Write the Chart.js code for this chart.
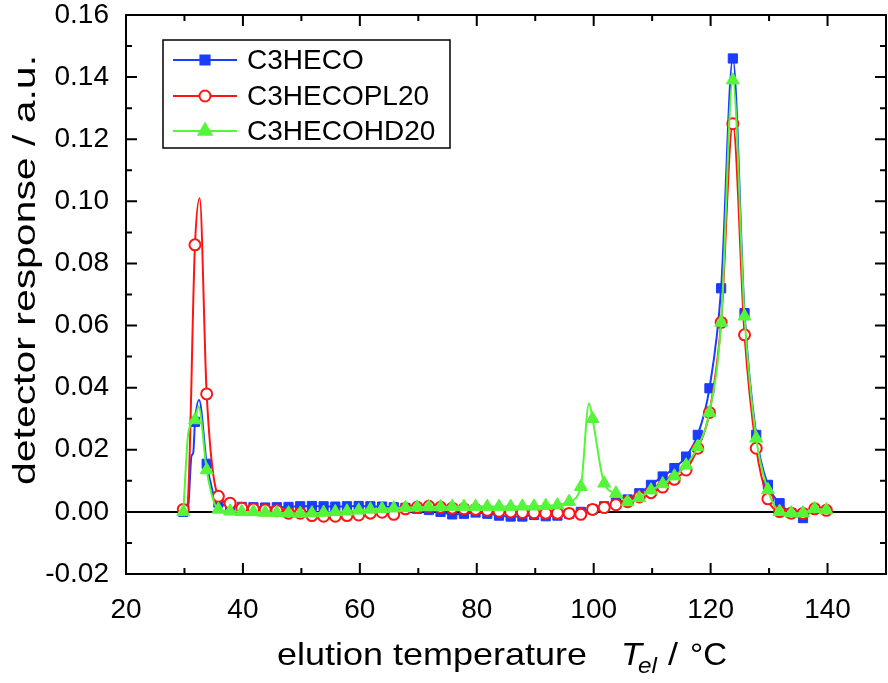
<!DOCTYPE html>
<html>
<head>
<meta charset="utf-8">
<script src="https://cdn.jsdelivr.net/npm/chart.js@4.4.1/dist/chart.umd.min.js"></script>
<style>
  html, body { margin: 0; padding: 0; background: #fff; }
  #wrap { width: 888px; height: 683px; }
</style>
</head>
<body>
<div id="wrap"><canvas id="cv" width="888" height="683"></canvas></div>
<script>
// elution temperatures of the marked points (degC)
var temps = [29.8, 31.8, 33.8, 35.8, 37.8, 39.8, 41.8, 43.8, 45.8, 47.8,
  49.8, 51.8, 53.8, 55.8, 57.8, 59.8, 61.8, 63.8, 65.8, 67.8,
  69.8, 71.8, 73.8, 75.8, 77.8, 79.8, 81.8, 83.8, 85.8, 87.8,
  89.8, 91.8, 93.8, 95.8, 97.8, 99.8, 101.8, 103.8, 105.8, 107.8,
  109.8, 111.8, 113.8, 115.8, 117.8, 119.8, 121.8, 123.8, 125.8, 127.8,
  129.8, 131.8, 133.8, 135.8, 137.8, 139.8];

var heco = [0.0, 0.029, 0.0155, 0.003, 0.0018, 0.0016, 0.0015, 0.0014, 0.0015, 0.0016,
  0.0018, 0.0019, 0.0018, 0.0017, 0.0018, 0.0019, 0.0018, 0.0017, 0.0015, 0.0013,
  0.0010, 0.0006, 0.0, -0.0008, -0.0006, -0.0002, -0.0006, -0.0012, -0.0015, -0.0015,
  -0.0010, -0.0014, -0.0012, -0.0006, 0.0, 0.0008, 0.0018, 0.003, 0.004, 0.006,
  0.0087, 0.0114, 0.0141, 0.0178, 0.0248, 0.0398, 0.072, 0.146, 0.064, 0.0248,
  0.0087, 0.0028, -0.0004, -0.002];

var hecoPL = [0.0008, 0.086, 0.038, 0.005, 0.0028, 0.0012, 0.0009, 0.0006, 0.0004, -0.0004,
  -0.0004, -0.0012, -0.0014, -0.0014, -0.0012, -0.001, -0.0004, -0.0001, -0.0008, 0.0010,
  0.0015, 0.0018, 0.0015, 0.0012, 0.001, 0.0008, 0.0005, 0.0002, 0.0, -0.0002,
  -0.0003, -0.0004, -0.0004, -0.0005, -0.0008, 0.0008, 0.0014, 0.0023, 0.0033, 0.0048,
  0.0062, 0.008, 0.0105, 0.0135, 0.0205, 0.032, 0.061, 0.125, 0.057, 0.0205,
  0.0042, 0.0001, -0.0004, -0.0005, 0.001, 0.0005];

var hecoHD = [0.0, 0.0296, 0.0135, 0.0008, 0.0002, 0.0, 0.0, -0.0002, -0.0003, -0.0004,
  -0.0005, -0.0004, -0.0002, 0.0, 0.0002, 0.0005, 0.0008, 0.0010, 0.0012, 0.0013,
  0.0015, 0.0016, 0.0016, 0.0017, 0.0017, 0.0017, 0.0017, 0.0017, 0.0017, 0.0018,
  0.0018, 0.002, 0.0022, 0.0033, 0.0081, 0.030, 0.0092, 0.006, 0.0032, 0.0045,
  0.007, 0.009, 0.0115, 0.015, 0.021, 0.032, 0.061, 0.139, 0.063, 0.0237,
  0.0071, 0.0001, -0.0004, -0.0004, 0.001, 0.0006];

// points of the fitted curves that carry no marker
var hecoExtraT = [30.6, 31.2, 31.5, 32.5, 34.4, 35.2];
var hecoExtraV = [0.001, 0.018, 0.019, 0.036, 0.010, 0.004];
var hecoPLExtraT = [30.5, 32.6];
var hecoPLExtraV = [0.002, 0.101];
var hecoHDExtraT = [30.7, 32.4, 34.9, 99.2];
var hecoHDExtraV = [0.026, 0.034, 0.004, 0.035];

var names = ['C3HECO', 'C3HECOPL20', 'C3HECOHD20'];
var xTicks = [20, 40, 60, 80, 100, 120, 140];
var yTicks = [-0.02, 0.00, 0.02, 0.04, 0.06, 0.08, 0.10, 0.12, 0.14, 0.16];

var FONT = '"Liberation Sans", Arial, sans-serif';

function buildPoints(vals, exT, exV) {
  var pts = [];
  vals.forEach(function(v, i) { pts.push({x: temps[i], y: v, m: true}); });
  exT.forEach(function(t, i) { pts.push({x: t, y: exV[i], m: false}); });
  pts.sort(function(a, b) { return a.x - b.x; });
  return pts;
}

var styles = [
  {color: '#1a3cff', fill: '#1a3cff', pointStyle: 'rect', radius: 6.5, bw: 1},
  {color: '#ff1414', fill: '#ffffff', pointStyle: 'circle', radius: 5.5, bw: 2},
  {color: '#55f53a', fill: '#55f53a', pointStyle: 'triangle', radius: 7.5, bw: 1}
];

function makeSet(i, pts) {
  var s = styles[i];
  return {
    label: names[i],
    data: pts,
    borderColor: s.color,
    backgroundColor: s.fill,
    pointBorderColor: s.color,
    pointBackgroundColor: s.fill,
    pointStyle: s.pointStyle,
    pointBorderWidth: s.bw,
    pointRadius: function(ctx) { return ctx.raw && ctx.raw.m ? s.radius : 0; },
    pointHoverRadius: 0,
    borderWidth: 2,
    cubicInterpolationMode: 'monotone',
    fill: false
  };
}

// text stretched along its run to a given length
function wideText(ctx, txt, x, y, len) {
  var w = ctx.measureText(txt).width;
  ctx.save();
  ctx.translate(x, y);
  ctx.scale(len / w, 1);
  ctx.fillText(txt, 0, 0);
  ctx.restore();
}

// frame, inward ticks, zero line, legend and axis titles
var decor = {
  id: 'decor',
  beforeDatasetsDraw: function(chart) {
    var ctx = chart.ctx, a = chart.chartArea, y0 = chart.scales.y.getPixelForValue(0);
    ctx.save();
    ctx.strokeStyle = '#000';
    ctx.lineWidth = 2;
    ctx.beginPath();
    ctx.moveTo(a.left, y0);
    ctx.lineTo(a.right, y0);
    ctx.stroke();
    ctx.restore();
  },
  afterDraw: function(chart) {
    var ctx = chart.ctx, a = chart.chartArea, xs = chart.scales.x, ys = chart.scales.y;
    ctx.save();
    ctx.strokeStyle = '#000';
    ctx.lineWidth = 2;
    ctx.strokeRect(a.left, a.top, a.right - a.left, a.bottom - a.top);
    ctx.beginPath();
    for (var t = 20; t <= 150; t += 10) {
      var px = xs.getPixelForValue(t), len = (t % 20 === 0) ? 11 : 6;
      ctx.moveTo(px, a.bottom); ctx.lineTo(px, a.bottom - len);
      ctx.moveTo(px, a.top); ctx.lineTo(px, a.top + len);
    }
    for (var k = -2; k <= 16; k++) {
      var py = ys.getPixelForValue(k / 100), l2 = (k % 2 === 0) ? 11 : 6;
      ctx.moveTo(a.left, py); ctx.lineTo(a.left + l2, py);
      ctx.moveTo(a.right, py); ctx.lineTo(a.right - l2, py);
    }
    ctx.stroke();

    // legend
    ctx.lineWidth = 1.5;
    ctx.strokeRect(163, 40, 287, 108);
    var rows = [60, 96, 131];
    ctx.font = '28px ' + FONT;
    ctx.textBaseline = 'middle';
    ctx.fillStyle = '#000';
    names.forEach(function(n, i) {
      var s = styles[i];
      ctx.strokeStyle = s.color;
      ctx.lineWidth = 2;
      ctx.beginPath();
      ctx.moveTo(173, rows[i]); ctx.lineTo(237, rows[i]);
      ctx.stroke();
      ctx.fillStyle = s.fill;
      ctx.strokeStyle = s.color;
      Chart.helpers.drawPoint(ctx, {pointStyle: s.pointStyle, radius: s.radius, rotation: 0, borderWidth: s.bw}, 205, rows[i]);
      ctx.fillStyle = '#000';
      ctx.fillText(n, 247, rows[i] + 1);
    });

    // y title
    ctx.textBaseline = 'alphabetic';
    ctx.textAlign = 'left';
    ctx.font = '32px ' + FONT;
    ctx.save();
    ctx.translate(35, 485);
    ctx.rotate(-Math.PI / 2);
    wideText(ctx, 'detector response / a.u.', 0, 0, 430);
    ctx.restore();

    // x title with italic symbol and subscript
    ctx.font = '32px ' + FONT;
    wideText(ctx, 'elution temperature', 277, 665, 310);
    ctx.font = 'italic 32px ' + FONT;
    wideText(ctx, 'T', 621, 665, 21);
    ctx.font = 'italic 22px ' + FONT;
    wideText(ctx, 'el', 638, 673, 19);
    ctx.font = '32px ' + FONT;
    wideText(ctx, '/', 668, 665, 10);
    wideText(ctx, '\u00b0C', 690, 665, 37);
    ctx.restore();
  }
};

new Chart(document.getElementById('cv'), {
  type: 'line',
  data: {
    datasets: [
      makeSet(2, buildPoints(hecoHD, hecoHDExtraT, hecoHDExtraV)),
      makeSet(1, buildPoints(hecoPL, hecoPLExtraT, hecoPLExtraV)),
      makeSet(0, buildPoints(heco, hecoExtraT, hecoExtraV))
    ]
  },
  options: {
    responsive: false,
    animation: false,
    layout: { autoPadding: false, padding: { top: 15, right: 2, left: 0, bottom: 0 } },
    plugins: { legend: { display: false }, tooltip: { enabled: false } },
    scales: {
      x: {
        type: 'linear',
        min: 20, max: 150,
        grid: { display: false },
        border: { display: false },
        afterBuildTicks: function(s) { s.ticks = xTicks.map(function(v) { return {value: v}; }); },
        afterFit: function(s) { s.height = 109; s.paddingLeft = 0; s.paddingRight = 0; },
        ticks: { color: '#000', font: { size: 28, family: FONT }, padding: 11, maxRotation: 0,
          callback: function(v) { return String(v); } }
      },
      y: {
        type: 'linear',
        min: -0.02, max: 0.16,
        grid: { display: false },
        border: { display: false },
        afterBuildTicks: function(s) { s.ticks = yTicks.map(function(v) { return {value: v}; }); },
        afterFit: function(s) { s.width = 126; s.paddingTop = 0; s.paddingBottom = 0; },
        ticks: { color: '#000', font: { size: 28, family: FONT }, padding: 9,
          callback: function(v) { return v.toFixed(2); } }
      }
    }
  },
  plugins: [decor]
});
</script>
</body>
</html>
